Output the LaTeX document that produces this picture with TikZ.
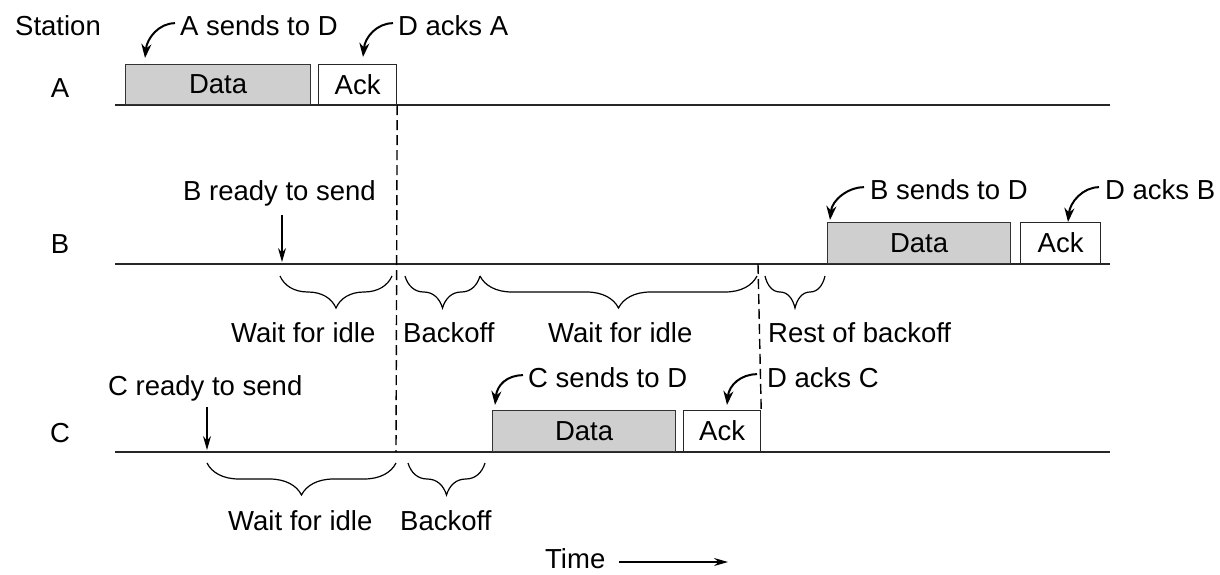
\documentclass[tikz,border=0pt]{standalone}
\usepackage{fontspec}
\setmainfont{Liberation Sans}
\usetikzlibrary{arrows.meta,decorations.pathreplacing}
\begin{document}
\begin{tikzpicture}[x=1pt,y=-1pt,
  lbl/.style={inner sep=0pt,anchor=base west,font=\fontsize{27.5}{32}\selectfont},
  rowlbl/.style={inner sep=0pt,anchor=base,font=\fontsize{27.5}{32}\selectfont},
  databox/.style={draw=black!80,line width=1.2pt,fill=gray!38,anchor=south west,inner sep=0pt,font=\fontsize{27.5}{32}\selectfont},
  ackbox/.style={draw=black!85,line width=1.2pt,fill=white,anchor=south west,inner sep=0pt,font=\fontsize{27.5}{32}\selectfont},
  tline/.style={line width=1.4pt,black!85},
  vdash/.style={line width=1.4pt,dash pattern=on 10pt off 5pt},
  ptr/.style={line width=2pt,-{Stealth[length=14pt,width=10pt]}},
  darr/.style={line width=1.2pt,-{Stealth[length=14pt,width=8pt]}},
  brc/.style={line width=1.2pt,decorate,decoration={brace,mirror,amplitude=32pt}}
]
\useasboundingbox (0,0) rectangle (1220,574);

% timelines
\coordinate (a0) at (115,105); \coordinate (a1) at (1110,105);
\coordinate (b0) at (115,264); \coordinate (b1) at (1110,264);
\coordinate (c0) at (115,452); \coordinate (c1) at (1110,452);
\draw[tline] (a0) -- (a1);
\draw[tline] (b0) -- (b1);
\draw[tline] (c0) -- (c1);

% boxes
\node[databox,minimum width=185pt,minimum height=40pt] (dA) at (125,105) {Data};
\node[ackbox,minimum width=78pt,minimum height=40pt] (kA) at (318,105) {Ack};
\node[databox,minimum width=183pt,minimum height=41pt] (dB) at (827,264) {Data};
\node[ackbox,minimum width=80pt,minimum height=41pt] (kB) at (1020,264) {Ack};
\node[databox,minimum width=183pt,minimum height=41pt] (dC) at (492,452) {Data};
\node[ackbox,minimum width=77pt,minimum height=41pt] (kC) at (683,452) {Ack};

% dashed verticals
\coordinate (v1) at (396,452);
\coordinate (v2) at (758,264);
\draw[vdash] (kA.south east) -- (v1);
\draw[vdash] (v2) -- (kC.north east);

% labels
\node[lbl] (st) at (15,35) {Station};
\node[rowlbl] (rA) at (60,97) {A};
\node[rowlbl] (rowB) at (60,253) {B};
\node[rowlbl] (rowC) at (60,442) {C};

\node[lbl] (sA) at (180,35) {A sends to D};
\node[lbl] (aA) at (398,35) {D acks A};
\node[lbl] (sB) at (870,199) {B sends to D};
\node[lbl] (aB) at (1105,199) {D acks B};
\node[lbl] (sC) at (528,387) {C sends to D};
\node[lbl] (aC) at (767,387) {D acks C};

\node[lbl] (rdB) at (183,200) {B ready to send};
\node[lbl] (rdC) at (108,395) {C ready to send};

\node[lbl] (w1) at (231,342) {Wait for idle};
\node[lbl] (bo1) at (403,342) {Backoff};
\node[lbl] (w2) at (548,342) {Wait for idle};
\node[lbl] (rb) at (768,342) {Rest of backoff};
\node[lbl] (w3) at (228,530) {Wait for idle};
\node[lbl] (bo2) at (400,530) {Backoff};
\node[lbl] (tm) at (545,568) {Time};

% curved pointers
\coordinate (tA1) at (145,58);
\coordinate (tA2) at (363,57);
\coordinate (tB1) at (830,220);
\coordinate (tB2) at (1068,222);
\coordinate (tC1) at (495,405);
\coordinate (tC2) at (727,405);
\draw[ptr] ([xshift=-5pt,yshift=2pt]sA.west) .. controls +(-16,0) and +(2,-20) .. (tA1);
\draw[ptr] ([xshift=-5pt,yshift=2pt]aA.west) .. controls +(-16,0) and +(2,-20) .. (tA2);
\draw[ptr] ([xshift=-6pt,yshift=2pt]sB.west) .. controls +(-16,0) and +(2,-20) .. (tB1);
\draw[ptr] ([xshift=-6pt,yshift=2pt]aB.west) .. controls +(-16,0) and +(2,-20) .. (tB2);
\draw[ptr] ([xshift=-5pt,yshift=2pt]sC.west) .. controls +(-16,0) and +(2,-20) .. (tC1);
\draw[ptr] ([xshift=-10pt,yshift=3pt]aC.west) .. controls +(-16,0) and +(2,-20) .. (tC2);

% ready arrows
\coordinate (eB) at (282,262);
\coordinate (eC) at (207,450);
\draw[darr] (rdB.south -| eB) ++(0,9) -- (eB);
\draw[darr] (rdC.south -| eC) ++(0,6) -- (eC);

% braces
\coordinate (p1) at (280,276); \coordinate (p2) at (392,276);
\coordinate (p3) at (405,276); \coordinate (p4) at (480,276);
\coordinate (p5) at (757,276);
\coordinate (p6) at (765,276); \coordinate (p7) at (825,276);
\draw[brc] (p1) -- (p2);
\draw[brc] (p3) -- (p4);
\draw[brc] (p4) -- (p5);
\draw[brc] (p6) -- (p7);
\coordinate (q1) at (207,463); \coordinate (q2) at (396,463);
\coordinate (q3) at (408,463); \coordinate (q4) at (485,463);
\draw[brc] (q1) -- (q2);
\draw[brc] (q3) -- (q4);

% time arrow
\coordinate (te) at (728,562);
\draw[darr] ([xshift=14pt]tm.east |- te) -- (te);
\end{tikzpicture}
\end{document}
